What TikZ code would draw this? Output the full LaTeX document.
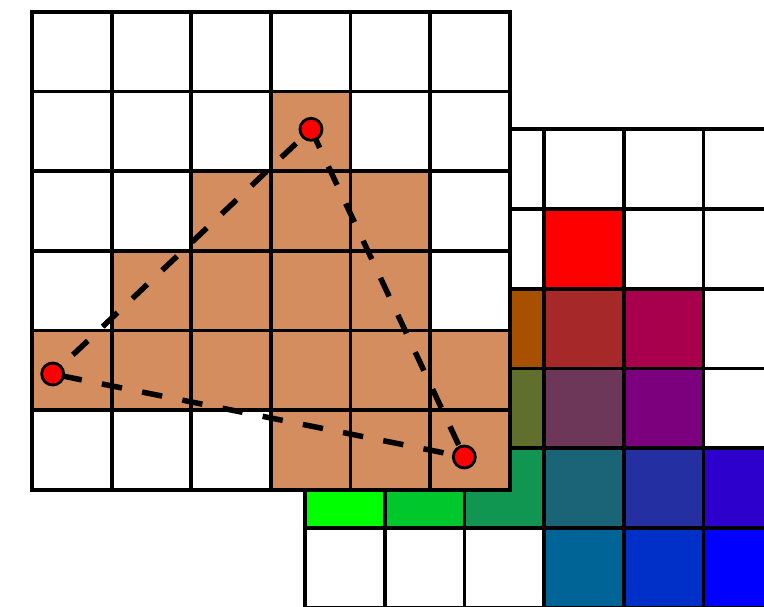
\documentclass[tikz,border=0pt]{standalone}
\definecolor{cellorange}{HTML}{D38D5F}
\begin{document}
\begin{tikzpicture}[x=1pt,y=-1pt,
  gridline/.style={line width=3.8pt,line cap=rect},
  dashedge/.style={line width=5.5pt,dash pattern=on 20.5pt off 20.5pt},
  vertex/.style={circle,draw=black,fill=red,line width=2.8pt,minimum size=22pt,inner sep=0pt}]
\useasboundingbox (0,0) rectangle (764,607);
\clip (0,0) rectangle (764,607);
% ---------- back grid (interpolated colours) ----------
\def\bx{305}\def\by{129.3}\def\bs{79.7}
\fill[white] (\bx,\by) rectangle ++(6*\bs,6*\bs);
\foreach \r/\c/\hex in {1/3/FF0000,
  2/2/A65000, 2/3/A62828, 2/4/A8004C,
  3/2/606E2E, 3/3/6C3758, 3/4/7C007E,
  4/0/00FF00, 4/1/00C82C, 4/2/109650, 4/3/1B6478, 4/4/2430A2, 4/5/2E00CC,
  5/3/006496, 5/4/0030C8, 5/5/0000FF}{
  \definecolor{tmpcell}{HTML}{\hex}
  \fill[tmpcell] ({\bx+\c*\bs},{\by+\r*\bs}) rectangle ++(\bs,\bs);
}
\foreach \i in {0,...,6}{
  \draw[gridline] ({\bx+\i*\bs},\by) -- ++(0,6*\bs);
  \draw[gridline] (\bx,{\by+\i*\bs}) -- ++(6*\bs,0);
}
% ---------- front grid ----------
\def\fx{32}\def\fy{12}\def\fs{79.6}
\fill[white] (\fx,\fy) rectangle ++(6*\fs,6*\fs);
\foreach \r/\c in {1/3, 2/2, 2/3, 2/4, 3/1, 3/2, 3/3, 3/4,
  4/0, 4/1, 4/2, 4/3, 4/4, 4/5, 5/3, 5/4, 5/5}{
  \fill[cellorange] ({\fx+\c*\fs},{\fy+\r*\fs}) rectangle ++(\fs,\fs);
}
\foreach \i in {0,...,6}{
  \draw[gridline] ({\fx+\i*\fs},\fy) -- ++(0,6*\fs);
  \draw[gridline] (\fx,{\fy+\i*\fs}) -- ++(6*\fs,0);
}
% ---------- triangle ----------
\coordinate (T) at (311,129.3);
\coordinate (L) at (52.7,374);
\coordinate (R) at (464.3,457);
\draw[dashedge,dash phase=20.5pt] (T) -- (L);
\draw[dashedge,dash phase=31.8pt] (L) -- (R);
\draw[dashedge,dash phase=27.7pt] (R) -- (T);
\node[vertex] (vt) at (T) {};
\node[vertex] (vl) at (L) {};
\node[vertex] (vr) at (R) {};
\end{tikzpicture}
\end{document}
